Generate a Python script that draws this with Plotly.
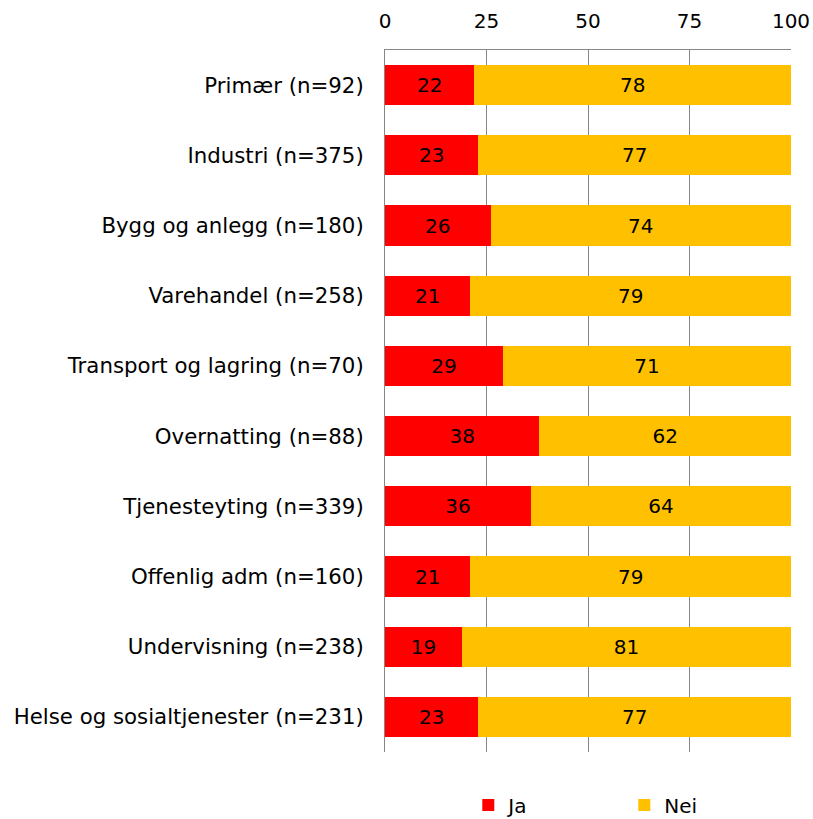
import plotly.graph_objects as go

categories = [
    "Primær (n=92)",
    "Industri (n=375)",
    "Bygg og anlegg (n=180)",
    "Varehandel (n=258)",
    "Transport og lagring (n=70)",
    "Overnatting (n=88)",
    "Tjenesteyting (n=339)",
    "Offenlig adm (n=160)",
    "Undervisning (n=238)",
    "Helse og sosialtjenester (n=231)",
]
ja = [22, 23, 26, 21, 29, 38, 36, 21, 19, 23]
nei = [78, 77, 74, 79, 71, 62, 64, 79, 81, 77]
x_ticks = [0, 25, 50, 75, 100]

FONT = "DejaVu Sans"
GRID = "#868686"

fig = go.Figure()
for name, vals, color in (("Ja", ja, "#FF0000"), ("Nei", nei, "#FFC000")):
    fig.add_trace(go.Bar(
        y=categories, x=vals, name=name, orientation="h",
        marker=dict(color=color, line=dict(width=0)),
        text=[str(v) for v in vals], textposition="inside",
        insidetextanchor="middle",
        textfont=dict(family=FONT, size=20, color="black"),
    ))

fig.update_layout(
    barmode="stack",
    bargap=0.43,
    width=813, height=819,
    margin=dict(l=385, r=22, t=50, b=67),
    paper_bgcolor="white", plot_bgcolor="white",
    font=dict(family=FONT, size=20, color="black"),
    uniformtext=dict(mode="show", minsize=20),
    xaxis=dict(
        side="top", range=[0, 100], tickvals=x_ticks,
        showgrid=True, gridcolor=GRID, gridwidth=1,
        showline=True, linecolor=GRID, linewidth=1,
        zeroline=False, ticks="", ticklen=0,
        tickfont=dict(family=FONT, size=20),
        ticklabelstandoff=13,
        automargin=False,
    ),
    yaxis=dict(
        autorange="reversed",
        showline=True, linecolor=GRID, linewidth=1,
        showgrid=False, zeroline=False, ticks="",
        tickfont=dict(family=FONT, size=21.3),
        ticklabelstandoff=16,
        automargin=False,
    ),
    legend=dict(
        orientation="h", yref="container", xref="container",
        x=0.576, xanchor="left", y=0.017, yanchor="middle",
        entrywidth=111, entrywidthmode="pixels", itemwidth=30,
        font=dict(family=FONT, size=20),
        traceorder="normal",
    ),
    showlegend=True,
)

fig.write_html("out.html")
